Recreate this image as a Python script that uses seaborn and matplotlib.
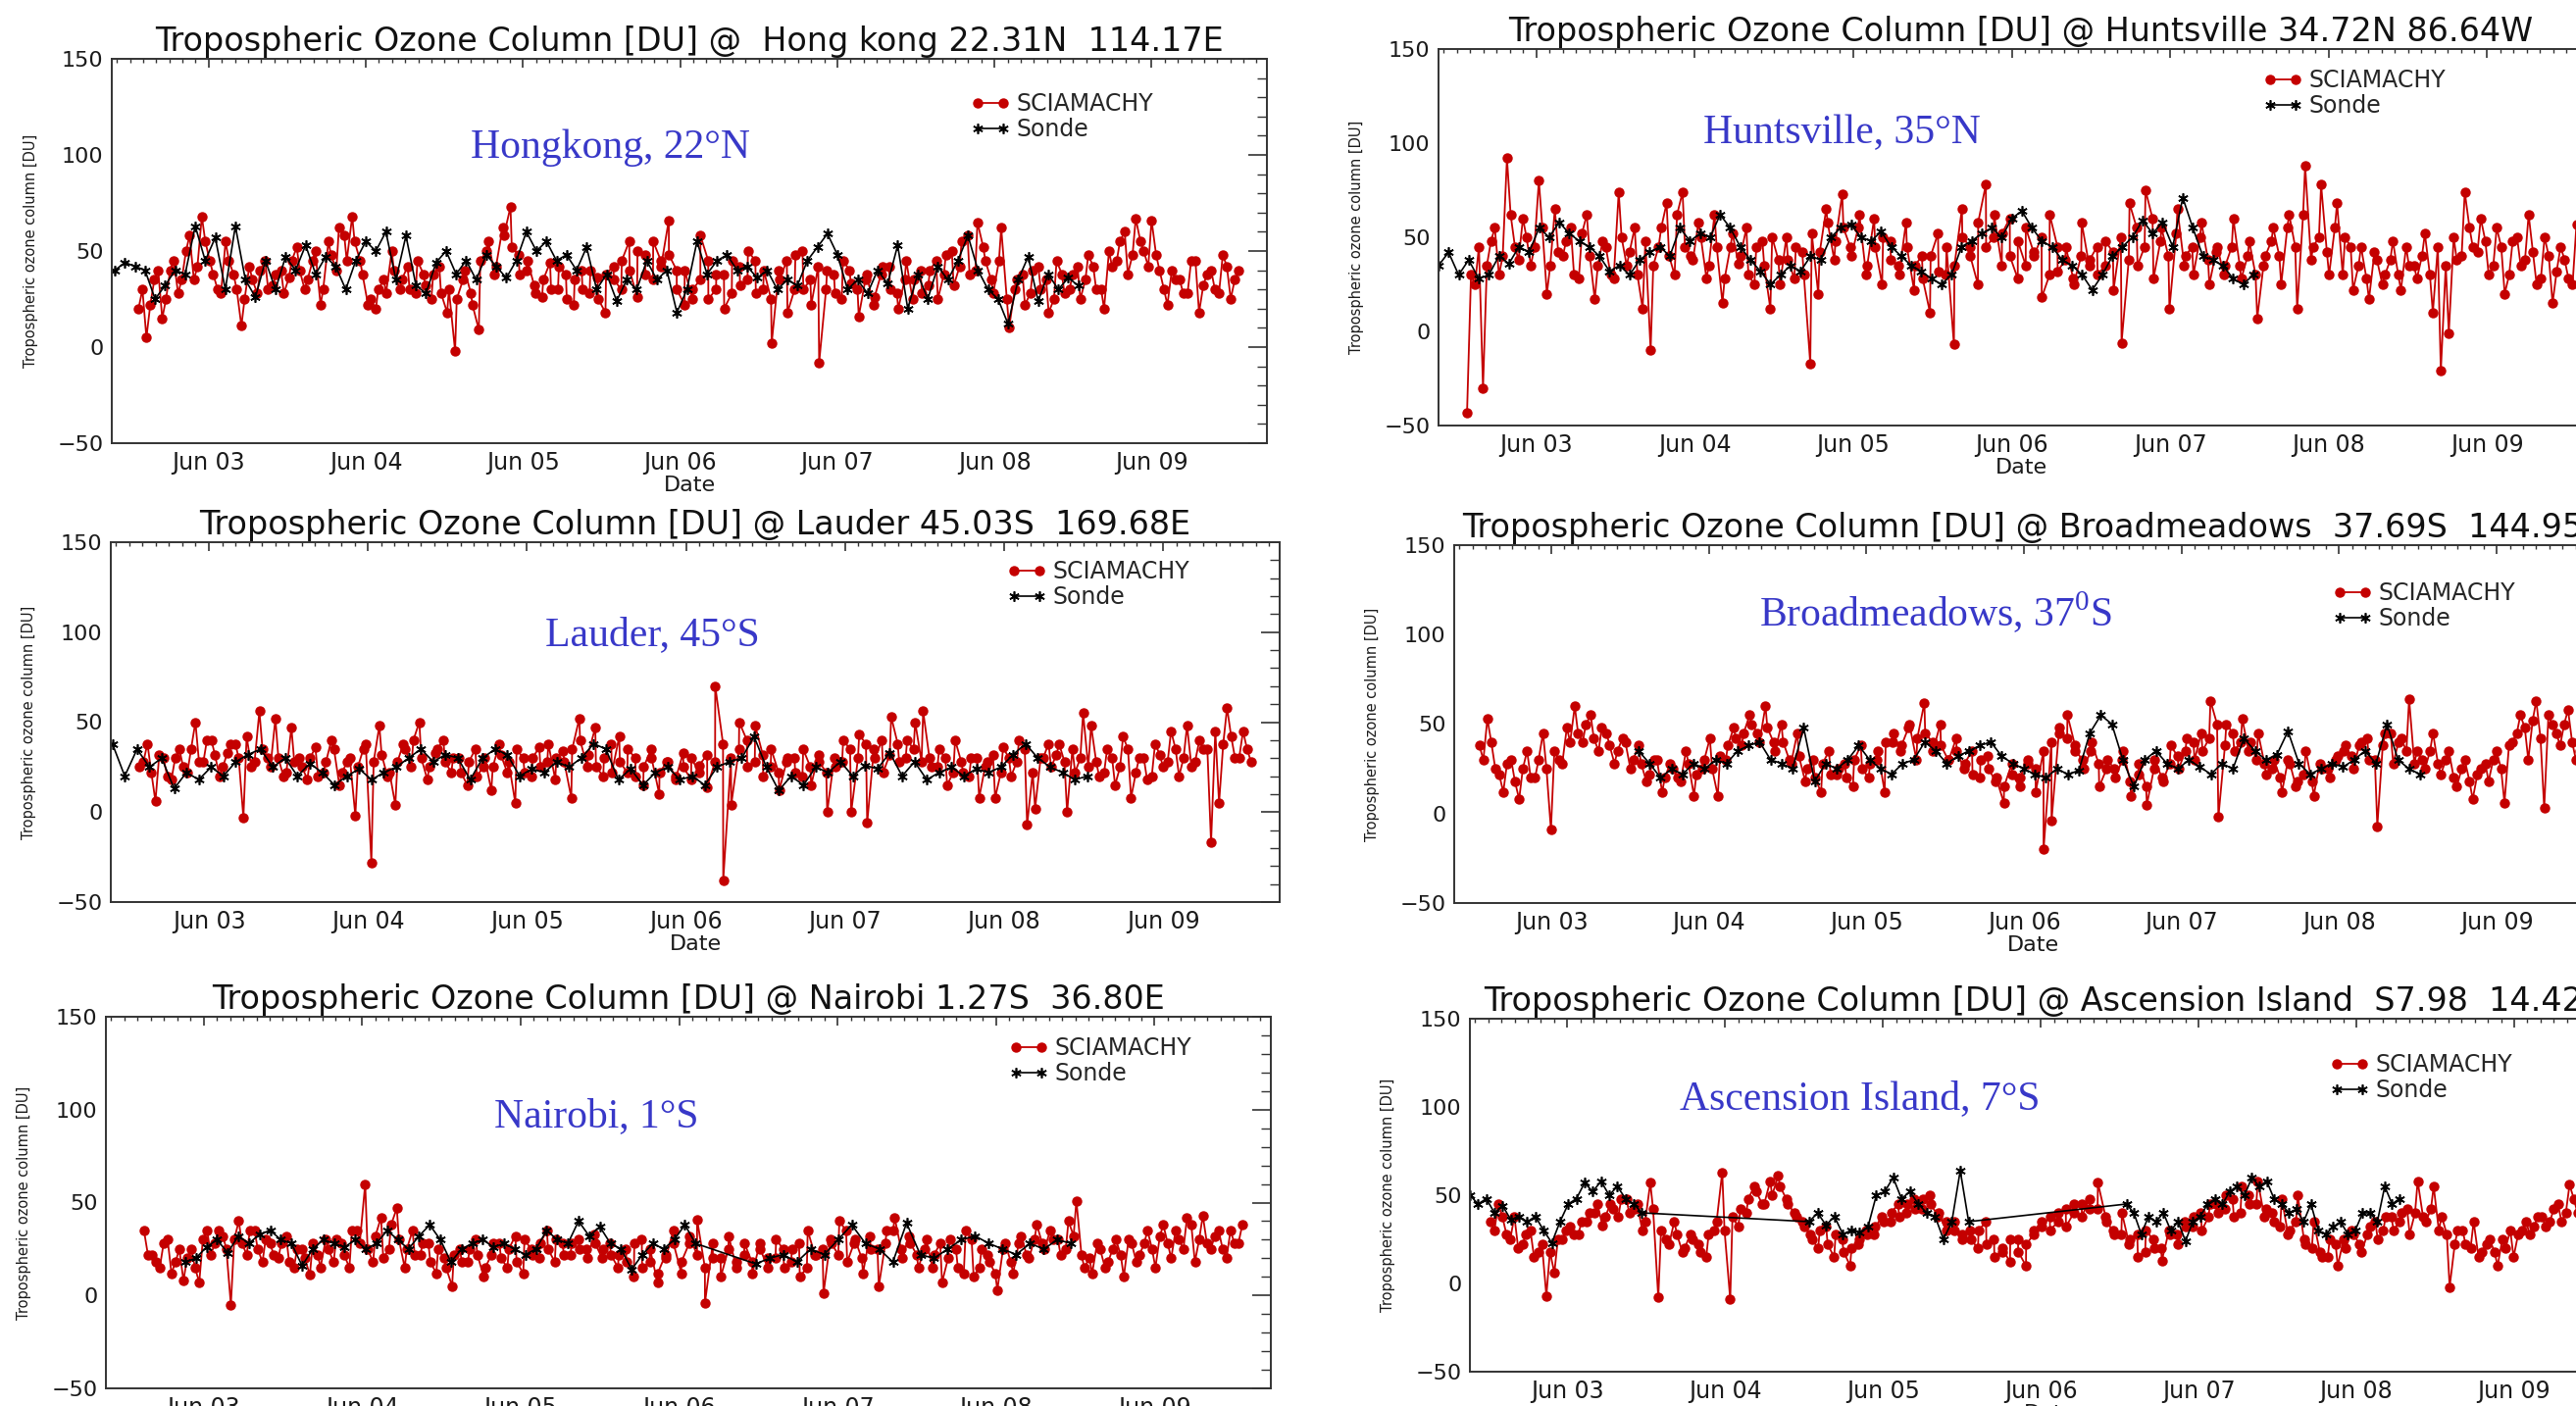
import numpy as np
import pandas as pd
import matplotlib
matplotlib.use('Agg')
import matplotlib.pyplot as plt
import seaborn as sns
from matplotlib.ticker import MultipleLocator

# eixo x: rotulos dos anos (marcados em 1 de junho)
tick_years = [2003, 2004, 2005, 2006, 2007, 2008, 2009]
tick_labels = ['Jun 03', 'Jun 04', 'Jun 05', 'Jun 06', 'Jun 07', 'Jun 08', 'Jun 09']
y_ticks = [-50, 0, 50, 100, 150]

titles = [
    'Tropospheric Ozone Column [DU] @  Hong kong 22.31N  114.17E',
    'Tropospheric Ozone Column [DU] @ Huntsville 34.72N 86.64W',
    'Tropospheric Ozone Column [DU] @ Lauder 45.03S  169.68E',
    'Tropospheric Ozone Column [DU] @ Broadmeadows  37.69S  144.95E',
    'Tropospheric Ozone Column [DU] @ Nairobi 1.27S  36.80E',
    'Tropospheric Ozone Column [DU] @ Ascension Island  S7.98  14.42W',
]
station_labels = ['Hongkong, 22°N', 'Huntsville, 35°N', 'Lauder, 45°S',
                  r'Broadmeadows, 37$^{\mathrm{0}}$S', 'Nairobi, 1°S', 'Ascension Island, 7°S']

# ---------------- Hong Kong ----------------
hk_sci_span = (2002.97, 2009.97)
hk_sci = [20, 5, 35, 15, 40, 28, 50, 35, 68, 45, 30, 55, 38, 11, 42, 28, 45, 32, 40, 36,
          52, 30, 45, 22, 55, 40, 58, 68, 45, 22, 20, 35, 50, 30, 42, 28, 38, 25, 42, 18,
          -2, 35, 28, 9, 50, 38, 62, 73, 48, 40, 32, 26, 44, 30, 38, 22, 40, 28, 36, 18,
          42, 30, 55, 26, 48, 35, 45, 66, 40, 22, 30, 58, 25, 38, 20, 45, 32, 50, 28, 40,
          2, 35, 18, 48, 30, 22, -8, 40, 28, 45, 33, 16, 38, 26, 42, 30, 20, 45, 35, 28,
          40, 25, 48, 32, 55, 38, 65, 45, 28, 62, 10, 35, 22, 40, 30, 18, 45, 28, 38, 25,
          48, 30, 20, 42, 55, 38, 67, 50, 66, 40, 22, 35, 28, 45, 18, 38, 30, 48, 25, 40]
hk_sci_b_span = (2002.995, 2009.945)
hk_sci_b = [30, 22, 40, 25, 45, 35, 58, 42, 55, 38, 28, 45, 30, 25, 35, 40, 30, 38, 28, 45,
            40, 35, 50, 30, 48, 62, 45, 55, 38, 25, 30, 28, 40, 35, 30, 45, 32, 38, 28, 30,
            25, 40, 22, 45, 55, 42, 58, 52, 38, 45, 28, 35, 30, 42, 25, 35, 30, 40, 25, 38,
            35, 45, 40, 50, 38, 55, 42, 48, 30, 40, 25, 35, 45, 30, 38, 28, 42, 35, 45, 30,
            25, 40, 45, 30, 50, 35, 42, 30, 38, 25, 40, 30, 35, 22, 38, 42, 28, 35, 25, 40,
            32, 45, 38, 50, 42, 58, 40, 52, 35, 45, 25, 30, 38, 28, 42, 35, 25, 38, 30, 42,
            35, 42, 30, 50, 45, 60, 48, 55, 42, 48, 30, 40, 35, 28, 45, 32, 40, 28, 42, 35]
hk_sonde_span = (2002.82, 2008.95)
hk_sonde = [40, 44, 42, 40, 25, 32, 40, 38, 63, 45, 57, 30, 63, 35, 26, 45, 30, 47,
            40, 53, 38, 47, 42, 30, 45, 55, 50, 60, 35, 58, 32, 28, 44, 50, 38, 45, 35,
            48, 42, 36, 45, 60, 50, 55, 45, 48, 40, 52, 30, 38, 24, 35, 30,
            45, 35, 40, 18, 30, 55, 38, 45, 48, 40, 42, 36, 40, 30, 35,
            32, 45, 52, 59, 48, 30, 35, 28, 40, 33, 53, 20, 38, 25, 42,
            35, 45, 58, 40, 30, 25, 12, 35, 47, 24, 38, 30, 36, 32]

# ---------------- Huntsville ----------------
hu_sci_span = (2002.98, 2009.98)
hu_sci = [-43, 25, -30, 48, 30, 92, 45, 60, 35, 80, 20, 65, 40, 55, 28, 62, 17, 48, 30, 74,
          35, 55, 12, -10, 45, 68, 30, 74, 40, 58, 28, 62, 15, 45, 36, 55, 25, 48, 12, 38,
          50, 28, 42, -17, 20, 65, 38, 73, 45, 55, 30, 60, 25, 48, 35, 58, 22, 40, 10, 52,
          30, -7, 65, 45, 25, 78, 50, 35, 60, 28, 55, 40, 18, 62, 32, 45, 25, 58, 38, 30,
          48, 22, -6, 68, 35, 75, 28, 55, 12, 65, 40, 30, 58, 25, 45, 35, 60, 28, 48, 7,
          40, 55, 25, 62, 12, 88, 45, 78, 30, 68, 50, 22, 45, 17, 38, 30, 48, 22, 35, 28,
          52, 10, -21, -1, 38, 74, 45, 60, 30, 55, 20, 48, 35, 62, 25, 50, 15, 45, 28, 57]
hu_sci_b_span = (2003.005, 2009.955)
hu_sci_b = [30, 45, 35, 55, 40, 62, 38, 50, 45, 55, 35, 42, 48, 30, 52, 40, 35, 45, 28, 50,
            42, 30, 48, 35, 55, 40, 62, 45, 38, 50, 35, 45, 28, 52, 40, 30, 45, 35, 50, 25,
            38, 45, 30, 52, 42, 58, 48, 55, 40, 62, 35, 45, 50, 38, 30, 45, 35, 28, 40, 32,
            45, 35, 50, 40, 58, 45, 62, 52, 40, 48, 35, 42, 50, 30, 45, 38, 28, 40, 35, 45,
            35, 42, 50, 38, 55, 45, 60, 48, 40, 52, 35, 45, 50, 38, 42, 30, 45, 35, 40, 30,
            35, 48, 40, 55, 45, 62, 38, 50, 42, 55, 30, 45, 35, 28, 42, 25, 38, 30, 45, 35,
            40, 30, 45, 35, 50, 40, 55, 42, 48, 35, 45, 30, 50, 38, 42, 28, 40, 32, 38, 25]
hu_sonde_span = (2002.80, 2007.94)
hu_sonde = [35, 42, 30, 38, 28, 30, 40, 36, 45, 42, 55, 50, 58, 52, 48, 45, 40, 32, 35, 30,
            38, 42, 45, 40, 55, 48, 52, 50, 62, 55, 45, 38, 32, 25, 30, 35, 32, 40, 38, 50,
            55, 57, 50, 48, 53, 45, 40, 35, 32, 28, 25, 30, 45, 48, 52, 55, 50, 60, 64, 55,
            48, 45, 38, 35, 30, 22, 30, 40, 45, 50, 59, 52, 58, 45, 71, 55, 40, 38, 35, 28, 25, 30]

# ---------------- Lauder ----------------
la_sci_span = (2002.98, 2009.97)
la_sci = [25, 38, 6, 30, 18, 35, 22, 50, 28, 40, 20, 33, 38, -3, 25, 56, 30, 52, 20, 47,
          30, 18, 36, 22, 40, 15, 28, -2, 35, -28, 48, 20, 4, 38, 25, 50, 18, 33, 40, 22,
          30, 15, 35, 25, 12, 38, 22, 5, 30, 20, 36, 28, 18, 34, 8, 52, 25, 47, 20, 38,
          42, 22, 30, 15, 35, 10, 28, 20, 33, 18, 26, 14, 70, -38, 4, 50, 25, 48, 20, 35,
          12, 30, 22, 35, 15, 28, 0, 25, 40, 0, 43, -6, 30, 22, 53, 28, 40, 50, 56, 25,
          35, 15, 40, 22, 30, 8, 28, 8, 36, 20, 40, -7, 2, 30, 25, 38, 0, 22, 55, 48,
          20, 35, 15, 42, 8, 30, 18, 38, 25, 45, 20, 48, 28, 35, -17, 5, 58, 30, 45, 28]
la_sci_b_span = (2003.005, 2009.945)
la_sci_b = [28, 22, 32, 20, 30, 25, 35, 28, 40, 32, 25, 38, 30, 42, 28, 35, 25, 30, 22, 28,
            25, 30, 20, 28, 35, 22, 30, 25, 38, 28, 32, 22, 28, 35, 40, 30, 25, 35, 28, 30,
            22, 28, 20, 30, 25, 32, 28, 35, 22, 30, 25, 38, 30, 28, 35, 40, 32, 25, 30, 22,
            28, 35, 20, 25, 30, 22, 28, 18, 25, 30, 22, 32, 28, 38, 30, 35, 40, 28, 32, 25,
            22, 28, 30, 20, 25, 32, 22, 30, 28, 35, 30, 38, 35, 40, 32, 38, 30, 35, 28, 30,
            25, 30, 22, 28, 20, 30, 25, 32, 22, 30, 28, 35, 22, 30, 38, 32, 28, 35, 30, 25,
            28, 22, 30, 25, 35, 22, 30, 20, 32, 28, 35, 30, 25, 40, 35, 45, 38, 42, 30, 35]
la_sonde_span = (2002.81, 2008.94)
la_sonde = [38, 20, 35, 25, 30, 13, 22, 18, 25, 20, 28, 32, 35, 25, 30, 20, 27, 22, 15, 20,
            24, 18, 22, 25, 30, 35, 28, 32, 30, 18, 30, 35, 32, 20, 24, 22, 28, 25, 30, 38,
            35, 18, 24, 15, 22, 25, 18, 20, 15, 25, 28, 30, 42, 25, 12, 20, 15, 25, 22, 28,
            20, 26, 24, 33, 20, 28, 18, 22, 25, 20, 24, 22, 25, 32, 38, 30, 25, 22, 18, 20]

# ---------------- Broadmeadows ----------------
br_sci_span = (2002.96, 2009.97)
br_sci = [38, 53, 25, 12, 30, 8, 35, 20, 45, -9, 30, 48, 60, 40, 55, 35, 45, 28, 42, 25,
          38, 18, 30, 12, 28, 20, 35, 10, 25, 42, 10, 30, 48, 38, 55, 45, 60, 40, 50, 30,
          45, 18, 30, 12, 35, 22, 28, 15, 38, 20, 30, 12, 40, 35, 48, 30, 62, 40, 50, 30,
          42, 25, 35, 20, 32, 18, 6, 28, 15, 30, 12, -20, -4, 45, 55, 35, 25, 40, 15, 30,
          20, 35, 10, 28, 5, 30, 18, 38, 25, 42, 30, 35, 63, -2, 50, 35, 53, 40, 45, 22,
          30, 12, 28, 18, 35, 10, 25, 20, 32, 38, 25, 40, 30, -7, 45, 28, 42, 64, 35, 25,
          45, 22, 35, 15, 30, 8, 25, 18, 35, 6, 40, 55, 30, 63, 3, 50, 38, 58, 30, 45]
br_sci_b_span = (2002.985, 2009.945)
br_sci_b = [30, 40, 22, 28, 18, 25, 20, 30, 25, 35, 28, 40, 45, 50, 42, 48, 38, 35, 40, 30,
            28, 22, 30, 20, 25, 18, 28, 22, 30, 25, 32, 38, 42, 45, 50, 40, 48, 35, 40, 28,
            32, 25, 20, 28, 22, 25, 20, 30, 25, 28, 35, 40, 45, 38, 50, 42, 45, 35, 38, 30,
            35, 28, 22, 30, 25, 20, 15, 22, 20, 28, 25, 35, 40, 48, 42, 38, 30, 35, 28, 25,
            25, 30, 18, 22, 15, 25, 20, 28, 32, 35, 40, 45, 42, 50, 38, 45, 40, 35, 30, 28,
            25, 20, 30, 15, 22, 18, 28, 25, 30, 35, 32, 38, 42, 30, 38, 45, 40, 35, 28, 30,
            35, 28, 30, 20, 25, 18, 22, 28, 30, 25, 38, 45, 48, 52, 42, 55, 45, 50, 40, 35]
br_sonde_span = (2003.97, 2008.93)
br_sonde = [35, 28, 20, 25, 22, 28, 25, 30, 28, 35, 38, 40, 30, 28, 25, 48, 18, 28, 25, 30,
            38, 30, 25, 22, 28, 30, 40, 35, 28, 32, 35, 38, 40, 32, 28, 25, 22, 20, 25, 22,
            24, 45, 55, 50, 30, 15, 30, 35, 28, 25, 30, 26, 22, 28, 25, 42, 35, 30, 33, 46,
            28, 22, 25, 28, 26, 30, 35, 28, 50, 30, 25, 22]

# ---------------- Nairobi ----------------
na_sci_span = (2003.04, 2009.97)
na_sci = [35, 22, 15, 30, 18, 8, 25, 7, 35, 28, 32, -5, 40, 22, 35, 18, 28, 20, 32, 15,
          25, 11, 22, 30, 18, 28, 15, 35, 60, 18, 42, 25, 47, 15, 35, 22, 28, 12, 20, 5,
          25, 18, 30, 10, 22, 28, 15, 32, 12, 25, 20, 35, 18, 28, 22, 30, 25, 33, 20, 28,
          15, 25, 10, 30, 18, 7, 22, 35, 12, 28, 41, -4, 20, 10, 32, 18, 28, 12, 25, 20,
          30, 15, 25, 10, 35, 22, 1, 28, 40, 18, 30, 12, 25, 5, 35, 42, 20, 28, 15, 30,
          22, 7, 30, 15, 35, 10, 25, 18, 3, 28, 12, 32, 20, 38, 25, 30, 22, 40, 51, 15,
          12, 25, 18, 30, 10, 28, 22, 35, 15, 38, 20, 30, 42, 18, 43, 25, 35, 20, 28, 38]
na_sci_b_span = (2003.065, 2009.945)
na_sci_b = [22, 18, 28, 12, 25, 20, 15, 30, 22, 35, 25, 30, 28, 35, 25, 30, 22, 28, 18, 25,
            20, 28, 15, 25, 30, 22, 35, 28, 25, 32, 20, 38, 30, 25, 22, 28, 18, 25, 15, 22,
            18, 25, 22, 15, 28, 20, 25, 18, 30, 22, 28, 25, 30, 22, 28, 25, 20, 28, 25, 22,
            22, 18, 28, 15, 25, 12, 20, 28, 18, 32, 22, 15, 28, 20, 25, 15, 22, 18, 28, 15,
            20, 25, 18, 28, 15, 22, 25, 30, 22, 35, 28, 20, 32, 25, 28, 35, 25, 32, 22, 25,
            15, 28, 20, 25, 12, 30, 15, 22, 12, 25, 18, 28, 22, 30, 28, 35, 30, 25, 32, 22,
            20, 28, 15, 25, 22, 30, 18, 28, 25, 32, 28, 35, 25, 38, 30, 28, 32, 25, 35, 28]
na_sonde_a_span = (2003.30, 2006.52)
na_sonde_a = [18, 20, 26, 30, 23, 32, 28, 33, 35, 30, 28, 16, 25, 30, 28, 26, 30, 25, 28, 35,
              30, 25, 32, 38, 30, 18, 25, 28, 30, 26, 28, 25, 22, 25, 35, 30, 28, 40, 32, 37,
              28, 25, 14, 22, 28, 25, 30, 38, 28]
na_sonde_b_span = (2006.90, 2008.89)
na_sonde_b = [17, 20, 22, 18, 25, 22, 30, 38, 28, 25, 18, 39, 22, 20, 25, 30, 32, 28, 25, 22,
              28, 25, 30, 28]

# ---------------- Ascension Island ----------------
as_sci_span = (2002.93, 2009.97)
as_sci = [35, 45, 28, 38, 22, 30, 18, -7, 6, 25, 32, 28, 35, 40, 33, 45, 38, 48, 42, 30,
          57, -8, 25, 35, 18, 28, 22, 15, 30, 63, -9, 32, 40, 55, 45, 58, 61, 48, 40, 35,
          28, 20, 32, 15, 25, 10, 22, 30, 28, 38, 35, 45, 40, 48, 42, 50, 38, 30, 35, 25,
          30, 20, 35, 25, 18, 12, 25, 10, 28, 35, 30, 40, 32, 45, 38, 42, 57, 35, 28, 40,
          25, 15, 30, 20, 13, 28, 22, 32, 38, 30, 45, 40, 50, 38, 55, 45, 58, 42, 35, 48,
          30, 50, 22, 35, 15, 25, 10, 20, 28, 18, 32, 25, 38, 30, 40, 28, 58, 35, 55, 38,
          -2, 30, 22, 35, 18, 25, 10, 20, 15, 30, 28, 38, 32, 42, 35, 56, 40, 45, 38, 48]
as_sci_b_span = (2002.955, 2009.945)
as_sci_b = [30, 38, 25, 20, 28, 15, 22, 18, 25, 30, 28, 35, 40, 45, 38, 42, 48, 40, 45, 35,
            42, 30, 22, 28, 20, 25, 18, 28, 35, 30, 38, 42, 48, 52, 45, 50, 55, 45, 38, 32,
            25, 30, 22, 28, 18, 20, 25, 28, 32, 35, 40, 38, 45, 42, 48, 45, 40, 35, 30, 28,
            25, 30, 22, 15, 20, 25, 18, 22, 30, 32, 38, 35, 42, 40, 45, 48, 42, 38, 30, 28,
            22, 28, 18, 25, 20, 30, 28, 35, 32, 40, 38, 45, 42, 48, 40, 50, 45, 38, 40, 32,
            28, 35, 25, 20, 18, 15, 22, 25, 30, 22, 28, 35, 30, 38, 35, 42, 40, 38, 42, 30,
            28, 22, 30, 20, 15, 22, 18, 25, 30, 28, 35, 32, 38, 35, 45, 40, 48, 42, 45, 40]
as_sonde_a_span = (2002.80, 2003.89)
as_sonde_a = [50, 45, 48, 40, 44, 36, 38, 35, 38, 30, 23, 35, 45, 48, 57, 52, 58, 50, 55, 48, 45, 40]
as_sonde_b_span = (2004.95, 2005.96)
as_sonde_b = [35, 40, 33, 38, 28, 30, 29, 32, 50, 52, 60, 48, 52, 45, 40, 38, 25, 35, 64, 35]
as_sonde_c_span = (2006.96, 2008.69)
as_sonde_c = [45, 40, 28, 38, 35, 40, 30, 35, 24, 35, 38, 45, 48, 45, 52, 55, 50, 60, 55, 58,
              48, 45, 40, 42, 35, 45, 30, 28, 32, 35, 28, 30, 40, 40, 35, 55, 45, 48]


def series_frame(spans, blocks):
    # cada bloco = medições de um período, em datas espaçadas regularmente
    parts = []
    for (t0, t1), vals in zip(spans, blocks):
        parts.append(pd.DataFrame({'ano': np.linspace(t0, t1, len(vals)), 'du': vals}))
    return pd.concat(parts, ignore_index=True).sort_values('ano', kind='stable')


panels = [
    (series_frame([hk_sci_span, hk_sci_b_span], [hk_sci, hk_sci_b]),
     series_frame([hk_sonde_span], [hk_sonde])),
    (series_frame([hu_sci_span, hu_sci_b_span], [hu_sci, hu_sci_b]),
     series_frame([hu_sonde_span], [hu_sonde])),
    (series_frame([la_sci_span, la_sci_b_span], [la_sci, la_sci_b]),
     series_frame([la_sonde_span], [la_sonde])),
    (series_frame([br_sci_span, br_sci_b_span], [br_sci, br_sci_b]),
     series_frame([br_sonde_span], [br_sonde])),
    (series_frame([na_sci_span, na_sci_b_span], [na_sci, na_sci_b]),
     series_frame([na_sonde_a_span, na_sonde_b_span], [na_sonde_a, na_sonde_b])),
    (series_frame([as_sci_span, as_sci_b_span], [as_sci, as_sci_b]),
     series_frame([as_sonde_a_span, as_sonde_b_span, as_sonde_c_span],
                  [as_sonde_a, as_sonde_b, as_sonde_c])),
]

# layout em pixels da figura (esq, topo, dir, base)
W, H = 2627, 1434
axes_px = [(114, 60, 1292, 452), (1467, 50, 2655, 434),
           (113, 553, 1305, 920), (1483, 556, 2664, 921),
           (108, 1037, 1296, 1416), (1499, 1039, 2682, 1399)]
legend_px = [(990, 106), (2308, 82), (1027, 583), (2379, 605), (1029, 1069), (2376, 1086)]
label_px = [(622, 151), (1878, 136), (665, 648), (1974, 625), (608, 1139), (1897, 1121)]

RED = '#c40000'
BLUE = '#3838c8'
AXC = '#333333'

sns.set_theme(style='white')
plt.rcParams['font.family'] = ['DejaVu Sans']
plt.rcParams['mathtext.fontset'] = 'custom'
plt.rcParams['mathtext.rm'] = 'Liberation Serif'

fig = plt.figure(figsize=(W / 100, H / 100), dpi=100)

for i, (sci, sonde) in enumerate(panels):
    l, t, r, b = axes_px[i]
    ax = fig.add_axes([l / W, 1 - b / H, (r - l) / W, (b - t) / H])

    sns.lineplot(data=sci, x='ano', y='du', ax=ax, color=RED, linewidth=1.3,
                 marker='o', markersize=7.5, markeredgewidth=0, markeredgecolor=RED,
                 estimator=None, sort=False, label='SCIAMACHY')
    sns.lineplot(data=sonde, x='ano', y='du', ax=ax, color='black', linewidth=1.2,
                 marker=(6, 2, 0), markersize=7.5, markeredgewidth=1.2, markeredgecolor='black',
                 estimator=None, sort=False, label='Sonde')

    ax.set_xlim(2002.80, 2010.15)
    ax.set_ylim(-50, 150)
    ax.set_xticks([yr + 5 / 12 for yr in tick_years], tick_labels)
    ax.xaxis.set_minor_locator(MultipleLocator(1 / 12))
    ax.set_yticks(y_ticks)
    ax.yaxis.set_minor_locator(MultipleLocator(10))
    ax.tick_params(which='both', direction='in', top=True, right=True, color=AXC, labelcolor='#1a1a1a')
    ax.tick_params(axis='x', which='major', length=6.5, width=1.2, labelsize=17, pad=6)
    ax.tick_params(axis='x', which='minor', length=3, width=1.0)
    ax.tick_params(axis='y', which='major', length=14, width=1.2, labelsize=16, pad=6)
    ax.tick_params(axis='y', which='minor', length=7, width=1.0)
    for sp in ax.spines.values():
        sp.set_color(AXC)
        sp.set_linewidth(1.4)

    ax.set_title(titles[i], fontsize=24, pad=6, color='#111111')
    ax.set_xlabel('Date', fontsize=16, color='#1a1a1a')
    ax.xaxis.set_label_coords(0.5, -33 / (b - t))
    ax.set_ylabel('Tropospheric ozone column [DU]', fontsize=10.5, color='#1a1a1a')
    ax.yaxis.set_label_coords(-0.064, 0.5)

    lx, ly = legend_px[i]
    handles, labels = ax.get_legend_handles_labels()
    ax.legend(handles, labels, loc='upper left', bbox_to_anchor=(lx / W, 1 - (ly - 12) / H),
              bbox_transform=fig.transFigure, frameon=False, numpoints=2, handlelength=1.7,
              handletextpad=0.25, labelspacing=0.1, borderpad=0, borderaxespad=0, fontsize=17)

    cx, cy = label_px[i]
    fig.text(cx / W, 1 - cy / H, station_labels[i], ha='center', va='center',
             fontsize=30, color=BLUE, family='Liberation Serif')

fig.savefig('out.png', dpi=100)
